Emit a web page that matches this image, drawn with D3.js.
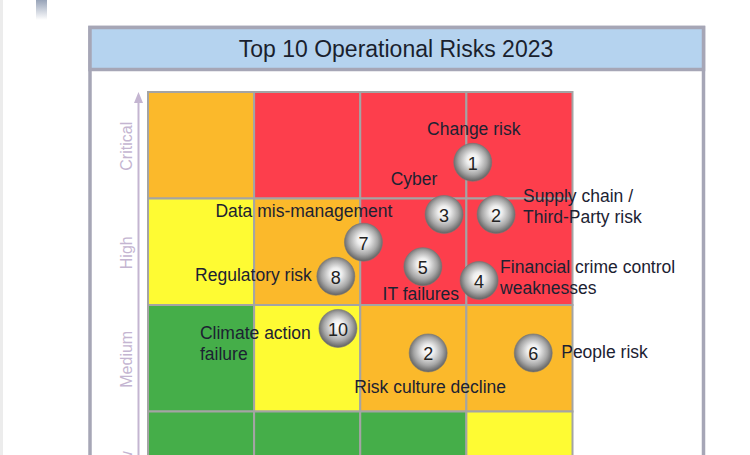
<!DOCTYPE html>
<html><head><meta charset="utf-8">
<script src="https://cdn.jsdelivr.net/npm/d3@7"></script>
<style>html,body{margin:0;padding:0;background:#fff;}svg{display:block;font-family:"Liberation Sans",Arial,sans-serif;}</style>
</head><body>
<script>
// ---- data ----
const title = "Top 10 Operational Risks 2023";
const impactLevels = ["Critical", "High", "Medium", "Low"];     // rows, top to bottom
const likelihoodLevels = ["1", "2", "3", "4"];                  // columns, left to right
// cell rating per row (Critical..Low), per column
const cellRatings = [
  ["amber", "red", "red", "red"],
  ["yellow", "amber", "red", "red"],
  ["green", "yellow", "amber", "amber"],
  ["green", "green", "green", "yellow"]
];
const riskIds = [1, 2, 3, 4, 5, 6, 7, 8, 10, 2];
const riskNames = [
  "Change risk",
  "Supply chain /\nThird-Party risk",
  "Cyber",
  "Financial crime control\nweaknesses",
  "IT failures",
  "People risk",
  "Data mis-management",
  "Regulatory risk",
  "Climate action\nfailure",
  "Risk culture decline"
];
const riskLikelihood = [3.06, 3.28, 2.79, 3.12, 2.59, 3.63, 2.03, 1.77, 1.79, 2.64];
const riskImpact     = [3.34, 2.85, 2.85, 2.23, 2.36, 1.55, 2.59, 2.27, 1.78, 1.55];

// ---- layout / style ----
const W = 750, H = 455;
const ratingColor = {red: "#fd3e4c", amber: "#fbb92b", yellow: "#fefb33", green: "#45ae49"};
const labelLayout = [ // anchor, dx, dy (first baseline) relative to marker centre
  ["middle", 1, -27],
  ["start", 27, -12],
  ["middle", -30, -29],
  ["start", 21, -8],
  ["middle", -2, 33],
  ["start", 28, 5],
  ["end", 29, -25],
  ["end", -24, 5],
  ["start", -138, 11],
  ["middle", 2, 40]
];

const svg = d3.select("body").append("svg").attr("width", W).attr("height", H);

// screenshot edge artefacts
const gArt = svg.append("defs").append("linearGradient").attr("id", "blob").attr("x1", 0).attr("y1", 0).attr("x2", 0).attr("y2", 1);
gArt.append("stop").attr("offset", "0%").attr("stop-color", "#7d8ca6");
gArt.append("stop").attr("offset", "100%").attr("stop-color", "#ffffff");
svg.append("rect").attr("x", 0).attr("y", 0).attr("width", 3).attr("height", H).attr("fill", "#ececec");
svg.append("rect").attr("x", 36).attr("y", 0).attr("width", 11).attr("height", 20).attr("fill", "url(#blob)").attr("opacity", 0.8);

// frame
svg.append("rect").attr("x", 90).attr("y", 27.5).attr("width", 613.5).attr("height", 460)
  .attr("fill", "#fff").attr("stroke", "#a6a6b6").attr("stroke-width", 3.5);
svg.append("rect").attr("x", 90).attr("y", 27.5).attr("width", 613.5).attr("height", 42)
  .attr("fill", "#b5d3ef").attr("stroke", "#a6a6b6").attr("stroke-width", 3.5);
svg.append("text").attr("x", 396).attr("y", 57).attr("text-anchor", "middle")
  .attr("font-size", 23).attr("fill", "#1a1f2e").text(title);

// scales
const x0 = 148, x1 = 572.5, y0 = 92, y1 = 518;
const rowScale = d3.scaleBand().domain(impactLevels).range([y0, y1]);
const colScale = d3.scaleBand().domain(likelihoodLevels).range([x0, x1]);
const xScale = d3.scaleLinear().domain([0, likelihoodLevels.length]).range([x0, x1]);
const yScale = d3.scaleLinear().domain([0, impactLevels.length]).range([y1, y0]);

// cells
const cells = [];
impactLevels.forEach((r, i) => likelihoodLevels.forEach((c, j) => cells.push({r, c, rating: cellRatings[i][j]})));
svg.append("g").selectAll("rect").data(cells).join("rect")
  .attr("x", d => colScale(d.c)).attr("y", d => rowScale(d.r))
  .attr("width", colScale.bandwidth()).attr("height", rowScale.bandwidth())
  .attr("fill", d => ratingColor[d.rating])
  .attr("stroke", "#a4a4a4").attr("stroke-width", 2);

// y axis arrow + labels
const axisCol = "#c4b5d1";
svg.append("line").attr("x1", 138.5).attr("x2", 138.5).attr("y1", 100).attr("y2", H + 10)
  .attr("stroke", axisCol).attr("stroke-width", 2);
svg.append("path").attr("d", "M138.5,92 L134,103 L143,103 Z").attr("fill", axisCol);
svg.append("g").selectAll("text").data(impactLevels).join("text")
  .attr("transform", d => `translate(131.5,${rowScale(d) + rowScale.bandwidth() / 2 + 1}) rotate(-90)`)
  .attr("text-anchor", "middle").attr("font-size", 16).attr("fill", axisCol).text(d => d);

// markers
const defs = svg.append("defs");
const rg = defs.append("radialGradient").attr("id", "sphere").attr("cx", "50%").attr("cy", "47%").attr("r", "52%")
  .attr("fx", "50%").attr("fy", "42%");
rg.append("stop").attr("offset", "0%").attr("stop-color", "#ffffff");
rg.append("stop").attr("offset", "30%").attr("stop-color", "#eeeeee");
rg.append("stop").attr("offset", "72%").attr("stop-color", "#a6a6a6");
rg.append("stop").attr("offset", "100%").attr("stop-color", "#656565");

const risks = riskIds.map((id, i) => ({id, name: riskNames[i], lx: riskLikelihood[i], ly: riskImpact[i], lay: labelLayout[i]}));
const g = svg.append("g");
const mk = g.selectAll("g.m").data(risks).join("g").attr("class", "m")
  .attr("transform", d => `translate(${xScale(d.lx)},${yScale(d.ly)})`);
mk.append("circle").attr("r", 19).attr("fill", "url(#sphere)").attr("stroke", "#777").attr("stroke-width", 0.6);
mk.append("text").attr("text-anchor", "middle").attr("y", 7.5).attr("font-size", 18).attr("fill", "#222")
  .text(d => d.id);

// labels
const lab = svg.append("g").selectAll("text").data(risks).join("text")
  .attr("x", d => xScale(d.lx) + d.lay[1]).attr("y", d => yScale(d.ly) + d.lay[2])
  .attr("text-anchor", d => d.lay[0]).attr("font-size", 17.5).attr("fill", "#1c2232");
lab.each(function(d) {
  const t = d3.select(this);
  d.name.split("\n").forEach((line, k) => {
    t.append("tspan").attr("x", xScale(d.lx) + d.lay[1]).attr("dy", k === 0 ? 0 : 21).text(line);
  });
});
</script>
</body></html>
